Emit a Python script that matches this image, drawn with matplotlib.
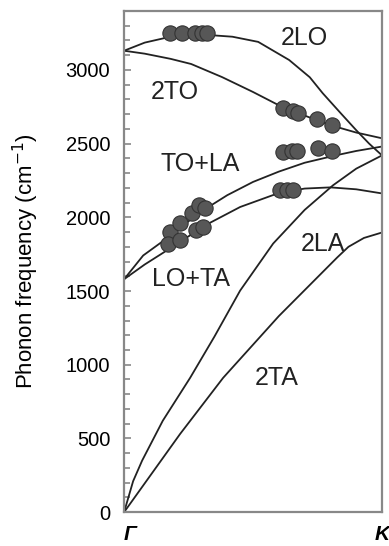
import matplotlib
matplotlib.use("Agg")
from matplotlib import pyplot as plt
from matplotlib.ticker import MultipleLocator

plt.rcParams['font.family'] = ['Liberation Sans', 'DejaVu Sans']

# dispersion curves, reduced wave vector Γ (0) -> K (1)
x_2lo = [0, 0.08, 0.18, 0.3, 0.42, 0.52, 0.64, 0.72, 0.77, 0.84, 0.9, 0.95, 1.0]
y_2lo = [3130, 3185, 3225, 3240, 3225, 3190, 3067, 2950, 2842, 2706, 2591, 2500, 2420]

x_2to = [0, 0.08, 0.18, 0.26, 0.38, 0.5, 0.6, 0.7, 0.8, 0.9, 1.0]
y_2to = [3130, 3110, 3075, 3040, 2951, 2850, 2760, 2690, 2625, 2575, 2536]

x_tola = [0, 0.074, 0.17, 0.24, 0.3, 0.4, 0.5, 0.6, 0.7, 0.82, 0.9, 1.0]
y_tola = [1580, 1741, 1863, 1960, 2040, 2150, 2240, 2310, 2370, 2420, 2450, 2480]

x_lota = [0, 0.08, 0.17, 0.24, 0.33, 0.45, 0.6, 0.7, 0.8, 0.9, 1.0]
y_lota = [1580, 1680, 1780, 1860, 1960, 2070, 2165, 2195, 2203, 2190, 2162]

x_2la = [0, 0.035, 0.07, 0.15, 0.256, 0.35, 0.45, 0.578, 0.7, 0.81, 0.9, 1.0]
y_2la = [0, 210, 350, 620, 911, 1190, 1503, 1822, 2050, 2217, 2330, 2420]

x_2ta = [0, 0.217, 0.384, 0.6, 0.826, 0.87, 0.93, 1.0]
y_2ta = [0, 530, 911, 1330, 1727, 1800, 1860, 1897]

# measured points
x_pts_2lo = [0.178, 0.225, 0.275, 0.302, 0.322]
y_pts_2lo = [3250, 3250, 3250, 3250, 3250]
x_pts_2to = [0.616, 0.655, 0.674, 0.748, 0.806]
y_pts_2to = [2740, 2720, 2706, 2666, 2625]
x_pts_tola = [0.178, 0.217, 0.264, 0.291, 0.314, 0.616, 0.651, 0.671, 0.752, 0.806]
y_pts_tola = [1897, 1958, 2026, 2081, 2060, 2441, 2448, 2448, 2469, 2448]
x_pts_lota = [0.171, 0.217, 0.279, 0.306, 0.605, 0.632, 0.655]
y_pts_lota = [1822, 1843, 1911, 1931, 2183, 2183, 2183]

labels = ["2LO", "2TO", "TO+LA", "LO+TA", "2LA", "2TA"]
label_x = [0.70, 0.198, 0.295, 0.26, 0.77, 0.593]
label_y = [3216, 2850, 2360, 1584, 1822, 911]

fig = plt.figure(figsize=(3.89, 5.46), dpi=100)
ax = fig.add_axes([0.319, 0.062, 0.663, 0.918])

line_kw = dict(color="#222222", lw=1.3, zorder=2)
for xs, ys in [(x_2lo, y_2lo), (x_2to, y_2to), (x_tola, y_tola),
               (x_lota, y_lota), (x_2la, y_2la), (x_2ta, y_2ta)]:
    ax.plot(xs, ys, **line_kw)

pt_kw = dict(ls="none", marker="o", ms=11, mfc="#575757", mec="#333333", mew=0.8, zorder=3)
for xs, ys in [(x_pts_2lo, y_pts_2lo), (x_pts_2to, y_pts_2to),
               (x_pts_tola, y_pts_tola), (x_pts_lota, y_pts_lota)]:
    ax.plot(xs, ys, **pt_kw)

for t, lx, ly in zip(labels, label_x, label_y):
    ax.text(lx, ly, t, fontsize=18, color="#222222", ha="center", va="center")

ax.set_xlim(0, 1)
ax.set_ylim(0, 3400)
ax.yaxis.set_major_locator(MultipleLocator(500))
ax.yaxis.set_minor_locator(MultipleLocator(100))
ax.set_xticks([0, 1])
ax.set_xticklabels(["Γ", "K"], fontsize=15, style="italic", fontweight="bold")
ax.get_xticklabels()[0].set_horizontalalignment("left")
ax.tick_params(axis="x", length=0, pad=9)
ax.tick_params(axis="y", which="both", direction="in", color="#888888", labelsize=14.5, pad=10)
ax.tick_params(axis="y", which="major", length=5, width=1.2)
ax.tick_params(axis="y", which="minor", length=4, width=1.2)
for s in ax.spines.values():
    s.set_color("#888888")
    s.set_linewidth(1.6)
ax.set_ylabel("Phonon frequency (cm$^{-1}$)", fontsize=16, labelpad=18)

fig.savefig("out.png", dpi=100)
